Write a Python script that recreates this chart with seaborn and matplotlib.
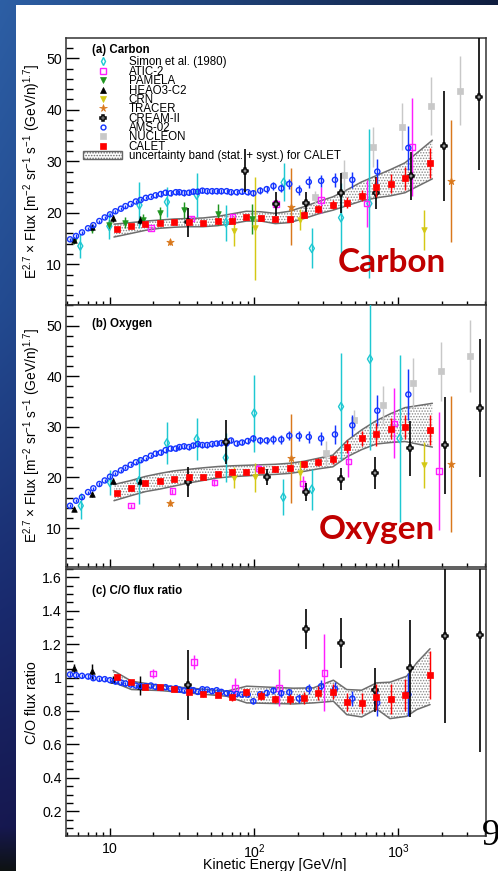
import numpy as np
import matplotlib
matplotlib.use("Agg")
import matplotlib.pyplot as plt
import seaborn as sns
from matplotlib.lines import Line2D
from matplotlib.patches import Patch, Rectangle
from matplotlib.ticker import (MultipleLocator, FuncFormatter, LogLocator,
                               NullFormatter)

# ------------------------------------------------------------------ data
ams_E = [5.28, 5.81, 6.39, 7.04, 7.66, 8.43, 9.19, 10.0, 10.9, 11.9, 12.8, 13.9,
         15.1, 16.3, 17.7, 19.2, 20.7, 22.5, 24.3, 26.3, 28.6, 30.3, 32.6, 35.3,
         37.8, 40.6, 43.7, 47.1, 51.0, 54.9, 59.2, 64.4, 69.0, 75.6, 82.3, 90.1,
         98.6, 110, 122, 136, 154, 175, 204, 239, 291, 363, 479, 714, 1172]
ams_a = [14.85, 15.5, 16.2, 17.0, 17.6, 18.4, 19.1, 19.7, 20.3, 20.8, 21.3, 21.7,
         22.2, 22.5, 22.9, 23.1, 23.4, 23.65, 23.9, 23.8, 24.0, 24.0, 23.85, 23.9,
         24.1, 24.1, 24.3, 24.2, 24.2, 24.2, 24.2, 24.2, 24.0, 24.0, 24.1, 24.0,
         23.8, 24.3, 24.6, 25.2, 24.75, 25.6, 24.4, 26.0, 26.2, 26.4, 26.4, 28.0, 32.6]
ams_a_err = [0.3] * 16 + [0.5] * 20 + [0.6, 0.7, 0.7, 0.8, 0.8, 0.9, 1.0, 1.1, 1.2,
                                      1.3, 1.5, 2.5, 4.2]
ams_b = [14.4, 15.4, 16.1, 17.1, 17.85, 18.7, 19.4, 20.15, 20.8, 21.4, 21.9, 22.5,
         23.0, 23.4, 23.8, 24.3, 24.7, 24.9, 25.4, 25.7, 25.7, 26.0, 26.15, 26.0,
         26.3, 26.6, 26.4, 26.4, 26.6, 26.7, 26.8, 26.8, 27.3, 26.7, 26.9, 27.2,
         27.7, 27.3, 27.3, 27.5, 27.5, 28.25, 28.2, 28.0, 27.7, 28.5, 30.3, 33.2, 36.4]
ams_b_err = [0.3] * 16 + [0.5] * 20 + [0.6, 0.7, 0.7, 0.8, 0.8, 0.9, 1.0, 1.1, 1.2,
                                      1.8, 2.1, 3.1, 5.0]
ams_c = [1.018, 1.014, 1.010, 1.006, 0.996, 0.992, 0.990, 0.984, 0.976, 0.970,
         0.964, 0.958, 0.952, 0.948, 0.948, 0.952, 0.944, 0.938, 0.942, 0.934,
         0.936, 0.928, 0.922, 0.930, 0.924, 0.914, 0.930, 0.928, 0.918, 0.924,
         0.914, 0.906, 0.902, 0.902, 0.898, 0.898, 0.858, 0.900, 0.908, 0.922,
         0.906, 0.912, 0.874, 0.932, 0.948, 0.932, 0.874, 0.848, 0.898]
ams_c_err = [0.012] * 36 + [0.015, 0.015, 0.018, 0.02, 0.02, 0.022, 0.025, 0.03,
                            0.035, 0.04, 0.045, 0.08, 0.13]

calet_E = [11.1, 14.0, 17.6, 22.2, 27.9, 35.1, 44.2, 55.7, 70.1, 88.2, 111, 140,
           176, 222, 279, 351, 442, 556, 700, 882, 1110, 1660]
calet_a = [16.85, 17.4, 17.8, 18.1, 18.15, 18.3, 18.1, 18.5, 18.5, 19.1, 19.0,
           18.75, 18.85, 19.65, 20.7, 21.55, 22.0, 23.3, 25.05, 25.65, 26.7, 29.7]
calet_a_err = [0.2, 0.2, 0.2, 0.2, 0.3, 0.3, 0.3, 0.3, 0.4, 0.4, 0.5, 0.5, 0.6,
               0.7, 0.8, 0.9, 1.1, 1.1, 1.9, 1.9, 2.2, 2.85]
calet_b = [16.98, 18.0, 18.95, 19.3, 19.6, 20.0, 20.15, 20.7, 21.1, 21.1, 21.5,
           21.6, 21.9, 22.6, 23.05, 23.6, 26.1, 27.7, 28.5, 29.6, 30.0, 29.4]
calet_b_err = [0.2, 0.2, 0.2, 0.3, 0.3, 0.3, 0.3, 0.3, 0.4, 0.4, 0.5, 0.5, 0.6,
               0.7, 0.8, 0.9, 1.3, 1.4, 2.2, 2.1, 2.4, 2.9]
calet_c = [1.002, 0.972, 0.946, 0.942, 0.932, 0.916, 0.900, 0.896, 0.882, 0.912,
           0.892, 0.872, 0.872, 0.876, 0.908, 0.916, 0.852, 0.848, 0.884, 0.870,
           0.896, 1.016]
calet_c_err = [0.01, 0.01, 0.01, 0.01, 0.015, 0.015, 0.015, 0.015, 0.02, 0.02,
               0.025, 0.025, 0.03, 0.035, 0.04, 0.045, 0.055, 0.062, 0.08, 0.09,
               0.097, 0.145]

band_E = [10.65, 14.0, 17.6, 22.2, 27.9, 35.1, 44.2, 55.7, 70.1, 88.2, 111, 140,
          176, 222, 279, 351, 442, 556, 700, 882, 1110, 1720]
band_a_up = [17.8, 18.1, 18.4, 18.6, 18.8, 18.9, 19.0, 19.3, 19.8, 20.3, 20.2, 19.9,
             20.3, 21.2, 22.2, 23.1, 24.5, 26.0, 27.2, 28.4, 29.7, 34.1]
band_a_lo = [15.3, 16.0, 16.6, 17.0, 17.2, 17.3, 17.3, 17.5, 17.9, 18.4, 18.4, 17.9,
             18.1, 18.9, 19.8, 20.5, 21.4, 22.3, 22.9, 23.3, 23.9, 26.6]
band_b_up = [18.6, 19.4, 20.2, 20.8, 21.3, 21.6, 21.9, 22.15, 22.3, 22.4, 22.5, 22.6,
             22.8, 23.2, 23.8, 24.4, 27.3, 29.4, 31.2, 32.6, 33.8, 34.65]
band_b_lo = [15.4, 16.4, 17.2, 17.7, 18.3, 18.9, 19.4, 19.9, 20.15, 20.3, 20.5, 20.6,
             20.8, 21.2, 21.7, 22.1, 24.1, 25.5, 26.6, 26.9, 27.1, 26.0]
band_c_E = [10.5, 14.1, 22.2, 64.4, 88.6, 187, 257, 354, 438, 556, 706, 874, 1142,
            1340, 1657]
band_c_up = [1.042, 0.978, 0.952, 0.918, 0.948, 0.936, 0.938, 0.984, 0.928, 0.924,
             0.968, 0.972, 1.008, 1.088, 1.172]
band_c_lo = [0.972, 0.928, 0.922, 0.888, 0.848, 0.842, 0.848, 0.858, 0.778, 0.764,
             0.812, 0.754, 0.768, 0.808, 0.838]

simon_a_E = [6.22, 9.89, 16.0, 24.8, 39.9, 63.7, 160, 251, 400, 629]
simon_a = [13.55, 17.4, 21.5, 22.1, 23.45, 18.1, 25.9, 13.1, 19.05, 21.8]
simon_a_err = [2.3, 2.5, 4.5, 2.9, 4.2, 3.5, 3.7, 3.9, 6.8, 14.4]
simon_b_E = [6.27, 10.0, 15.9, 24.8, 39.9, 63.4, 100, 159, 251, 400, 635, 1018]
simon_b = [14.4, 19.0, 19.35, 26.8, 27.6, 23.9, 32.7, 16.1, 17.65, 34.0, 43.4, 27.7]
simon_b_err = [2.6, 2.4, 4.6, 4.15, 4.2, 4.9, 7.6, 3.6, 4.0, 10.6, 18.0, 16.5]

atic_a_E = [19.2, 36.5, 70.5, 142, 290, 603, 1242]
atic_a = [17.05, 18.9, 19.2, 21.7, 22.5, 21.8, 32.8]
atic_a_err = [0.4, 0.5, 0.6, 1.0, 2.6, 4.5, 9.5]
atic_b_E = [14.0, 27.0, 53, 107, 217, 449, 936, 1908]
atic_b = [14.4, 17.3, 19.0, 21.8, 18.8, 23.1, 30.7, 21.3]
atic_b_err = [0.4, 0.5, 0.6, 0.9, 1.5, 3.0, 6.9, 11.6]
atic_c_E = [19.8, 38.2, 73.7, 149, 306]
atic_c = [1.024, 1.092, 0.938, 0.938, 1.028]
atic_c_err = [0.025, 0.04, 0.06, 0.11, 0.23]

pamela_a_E = [5.62, 7.47, 9.84, 12.8, 16.9, 22.2, 32.6, 55.8, 96.1]
pamela_a = [14.6, 16.8, 17.6, 18.1, 18.6, 19.9, 20.5, 19.7, 18.8]
pamela_a_err = [0.5, 0.8, 1.0, 1.0, 1.2, 1.3, 1.6, 2.0, 3.0]

heao_E = [5.6, 7.47, 10.5, 16.2]
heao_a = [14.7, 17.2, 18.9, 18.6]
heao_a_err = [0.4, 0.5, 0.6, 0.8]
heao_b = [13.75, 16.7, 19.3, 19.35]
heao_b_err = [0.4, 0.5, 0.6, 0.8]
heao_c = [1.054, 1.038, 0.988, 0.952]
heao_c_err = [0.025, 0.045, 0.02, 0.055]

crn_E = [72.4, 102, 207, 1514]
crn_a = [16.5, 17.05, 18.7, 16.7]
crn_a_err = [2.9, 10.0, 2.0, 3.9]
crn_b = [19.95, 20.0, 20.9, 22.45]
crn_b_err = [2.1, 2.8, 2.3, 4.6]

tracer_E = [25.9, 181, 2318]
tracer_a = [14.3, 21.2, 26.2]
tracer_a_err = [0.6, 7.5, 11.8]
tracer_b = [14.9, 23.8, 22.65]
tracer_b_err = [0.6, 8.8, 13.5]

cream_a_E = [34.9, 86.3, 142, 229, 398, 696, 1222, 2080, 3640]
cream_a = [18.2, 28.2, 21.7, 22.0, 23.8, 23.9, 27.1, 33.0, 42.4]
cream_a_err = [2.8, 4.2, 2.4, 2.0, 3.9, 3.1, 4.7, 10.7, 14.0]
cream_b_E = [35, 63.7, 122, 229, 400, 690, 1200, 2100, 3680]
cream_b = [19.15, 27.0, 20.15, 17.05, 19.7, 20.9, 25.75, 26.4, 33.7]
cream_b_err = [3.0, 4.4, 1.6, 1.8, 2.2, 3.2, 5.4, 9.6, 13.6]
cream_c_E = [35, 229, 400, 690, 1200, 2100, 3680]
cream_c = [0.954, 1.29, 1.204, 0.924, 1.054, 1.248, 1.257]
cream_c_err = [0.21, 0.12, 0.15, 0.13, 0.29, 0.52, 0.70]

nucleon_a_E = [264, 420, 664, 1054, 1675, 2673]
nucleon_a = [23.0, 27.3, 32.8, 36.7, 40.7, 43.7]
nucleon_a_err = [1.2, 3.0, 3.9, 4.6, 5.6, 6.7]
nucleon_b_E = [314, 493, 786, 1256, 1976, 3135]
nucleon_b = [24.8, 31.35, 34.3, 38.6, 41.0, 44.0]
nucleon_b_err = [2.5, 2.0, 3.8, 5.1, 5.8, 7.2]

legend_labels = ["Simon et al. (1980)", "ATIC-2", "PAMELA", "HEAO3-C2", "CRN",
                 "TRACER", "CREAM-II", "AMS-02", "NUCLEON", "CALET"]
band_label = "uncertainty band (stat. + syst.) for CALET"
xtick_vals = [10, 100, 1000]
xtick_text = ["10", "$10^{2}$", "$10^{3}$"]

# ------------------------------------------------------------------ styles
STY = {
    "simon":   dict(marker="d", color="#1ec8d2", fc="none", ms=4.3, mew=1.0, z=3),
    "atic":    dict(marker="s", color="#ff1eff", fc="none", ms=3.9, mew=1.0, z=3),
    "pamela":  dict(marker="v", color="#1f951f", fc=None, ms=4.0, mew=0.5, z=3),
    "heao":    dict(marker="^", color="#000000", fc=None, ms=4.0, mew=0.5, z=3),
    "crn":     dict(marker="v", color="#d4c814", fc=None, ms=4.0, mew=0.5, z=3),
    "tracer":  dict(marker="*", color="#d9781c", fc=None, ms=5.6, mew=0.5, z=3),
    "cream":   dict(marker="P", color="#000000", fc="white", ms=5.0, mew=1.1, z=3.5),
    "ams":     dict(marker="o", color="#1434ff", fc="none", ms=3.7, mew=1.0, z=3.2),
    "nucleon": dict(marker="s", color="#c8c8c8", fc=None, ms=4.0, mew=0.5, z=2.5),
    "calet":   dict(marker="s", color="#ff0000", fc=None, ms=4.2, mew=0.5, z=4),
}
ORDER = ["simon", "atic", "pamela", "heao", "crn", "tracer", "cream", "ams",
         "nucleon", "calet"]

sns.set_theme(style="ticks")
plt.rcParams["font.family"] = ["Liberation Sans", "DejaVu Sans"]
plt.rcParams.update({
    "mathtext.fontset": "custom",
    "mathtext.rm": "Liberation Sans",
    "mathtext.it": "Liberation Sans:italic",
    "mathtext.bf": "Liberation Sans:bold",
    "text.color": "black", "axes.labelcolor": "black",
    "xtick.color": "black", "ytick.color": "black",
    "hatch.linewidth": 0.7,
})

W, H = 498, 871
fig = plt.figure(figsize=(W / 100, H / 100), dpi=100)

# slide background
yy = np.linspace(0, 1, H)[:, None]
xx = np.linspace(0, 1, W)[None, :]
stops_y = [0.0, 0.35, 0.7, 0.95, 1.0]
cols = np.array([[45, 95, 165], [35, 75, 145], [25, 42, 110], [22, 24, 80],
                 [14, 18, 18]]) / 255.0
vert = np.stack([np.interp(yy[:, 0], stops_y, cols[:, k]) for k in range(3)], -1)
dark = np.array([10, 18, 45]) / 255.0
mix = (0.85 * xx[..., None])
bg = vert[:, None, :] * (1 - mix) + dark * mix
im = fig.figimage(bg, xo=0, yo=0, origin="upper")
im.set_zorder(-10)
fig.patches.append(Rectangle((16 / W, 0), 1 - 16 / W, 1 - 5 / H,
                             transform=fig.transFigure, facecolor="white",
                             edgecolor="none", zorder=-5))


def fpos(left, top, right, bottom):
    return [left / W, 1 - bottom / H, (right - left) / W, (bottom - top) / H]


ax_a = fig.add_axes(fpos(66, 38, 486, 304.7))
ax_b = fig.add_axes(fpos(66, 304.7, 486, 566.7))
ax_c = fig.add_axes(fpos(66, 568.5, 486, 836))
axes = [ax_a, ax_b, ax_c]


def draw(ax, key, E, v, err):
    st = STY[key]
    E = np.asarray(E, float)
    v = np.asarray(v, float)
    ax.errorbar(E, v, yerr=err, fmt="none", ecolor=st["color"],
                elinewidth=1.2 if key == "cream" else 1.05, capsize=0,
                zorder=st["z"] - 0.1)
    kw = dict(marker=st["marker"], s=st["ms"] ** 2, linewidth=st["mew"],
              edgecolor=st["color"], zorder=st["z"], legend=False,
              color=st["color"])
    if st["fc"] is not None:
        kw["facecolor"] = st["fc"]
    sns.scatterplot(x=E, y=v, ax=ax, **kw)


def band(ax, E, lo, up):
    ax.fill_between(E, lo, up, facecolor="none", edgecolor="#8a8a8a",
                    hatch="......", linewidth=0, zorder=1)
    ax.plot(E, up, color="#6e6e6e", lw=1.1, zorder=1.5)
    ax.plot(E, lo, color="#6e6e6e", lw=1.1, zorder=1.5)


for ax in axes:
    ax.set_xscale("log")

# panel a
band(ax_a, band_E, band_a_lo, band_a_up)
draw(ax_a, "simon", simon_a_E, simon_a, simon_a_err)
draw(ax_a, "atic", atic_a_E, atic_a, atic_a_err)
draw(ax_a, "pamela", pamela_a_E, pamela_a, pamela_a_err)
draw(ax_a, "heao", heao_E, heao_a, heao_a_err)
draw(ax_a, "crn", crn_E, crn_a, crn_a_err)
draw(ax_a, "tracer", tracer_E, tracer_a, tracer_a_err)
draw(ax_a, "nucleon", nucleon_a_E, nucleon_a, nucleon_a_err)
draw(ax_a, "cream", cream_a_E, cream_a, cream_a_err)
draw(ax_a, "ams", ams_E, ams_a, ams_a_err)
draw(ax_a, "calet", calet_E, calet_a, calet_a_err)

# panel b
band(ax_b, band_E, band_b_lo, band_b_up)
draw(ax_b, "simon", simon_b_E, simon_b, simon_b_err)
draw(ax_b, "atic", atic_b_E, atic_b, atic_b_err)
draw(ax_b, "heao", heao_E, heao_b, heao_b_err)
draw(ax_b, "crn", crn_E, crn_b, crn_b_err)
draw(ax_b, "tracer", tracer_E, tracer_b, tracer_b_err)
draw(ax_b, "nucleon", nucleon_b_E, nucleon_b, nucleon_b_err)
draw(ax_b, "cream", cream_b_E, cream_b, cream_b_err)
draw(ax_b, "ams", ams_E, ams_b, ams_b_err)
draw(ax_b, "calet", calet_E, calet_b, calet_b_err)

# panel c
band(ax_c, band_c_E, band_c_lo, band_c_up)
draw(ax_c, "atic", atic_c_E, atic_c, atic_c_err)
draw(ax_c, "heao", heao_E, heao_c, heao_c_err)
draw(ax_c, "cream", cream_c_E, cream_c, cream_c_err)
draw(ax_c, "ams", ams_E, ams_c, ams_c_err)
draw(ax_c, "calet", calet_E, calet_c, calet_c_err)

# axes cosmetics
FS = 10.2
for ax in axes:
    ax.set_xlim(4.95, 4050)
    for sp in ax.spines.values():
        sp.set_visible(True)
        sp.set_color("#333333")
        sp.set_linewidth(1.1)
    ax.tick_params(axis="both", which="both", direction="in", top=False,
                   right=False, width=1.0, colors="black", labelsize=FS)
    ax.tick_params(axis="y", which="major", length=9.4, pad=3)
    ax.tick_params(axis="y", which="minor", length=4.8)
    ax.tick_params(axis="x", which="major", length=5.5, pad=4.5)
    ax.tick_params(axis="x", which="minor", length=3.2)
    ax.xaxis.set_major_locator(LogLocator(base=10, numticks=10))
    ax.xaxis.set_minor_locator(LogLocator(base=10, subs=np.arange(2, 10),
                                          numticks=40))
    ax.xaxis.set_minor_formatter(NullFormatter())
    ax.set_xlabel("")
    ax.set_ylabel("")

ax_a.set_ylim(2.16, 53.94)
ax_b.set_ylim(2.35, 54.15)
ax_c.set_ylim(0.052, 1.652)
for ax in (ax_a, ax_b):
    ax.yaxis.set_major_locator(MultipleLocator(10))
    ax.yaxis.set_minor_locator(MultipleLocator(2))
    ax.yaxis.set_major_formatter(FuncFormatter(lambda v, p: f"{v:g}"))
    ax.tick_params(axis="x", labelbottom=False)
ax_c.yaxis.set_major_locator(MultipleLocator(0.2))
ax_c.yaxis.set_minor_locator(MultipleLocator(0.05))
ax_c.yaxis.set_major_formatter(FuncFormatter(lambda v, p: f"{v:.1f}".rstrip("0").rstrip(".")))
ax_c.set_xticks(xtick_vals)
ax_c.set_xticklabels(xtick_text)
ax_c.set_xlim(4.95, 4050)

ylab = r"E$^{2.7}$ $\times$ Flux [m$^{-2}$ sr$^{-1}$ s$^{-1}$ (GeV/n)$^{1.7}$]"
ax_a.set_ylabel(ylab, fontsize=9.9)
ax_b.set_ylabel(ylab, fontsize=9.9)
ax_c.set_ylabel("C/O flux ratio", fontsize=FS)
ax_a.yaxis.set_label_coords((43 - 66) / 420, 0.5)
ax_b.yaxis.set_label_coords((43 - 66) / 420, 0.5)
ax_c.yaxis.set_label_coords((39 - 66) / 420, 0.5)
ax_c.set_xlabel("Kinetic Energy [GeV/n]", fontsize=FS)
ax_c.xaxis.set_label_coords(0.4976, (836 - 858) / 267.5)

# panel titles
for t, ypx in (("(a) Carbon", 50), ("(b) Oxygen", 324), ("(c) C/O flux ratio", 591)):
    fig.text(92 / W, 1 - ypx / H, t, fontsize=8.3, fontweight="bold",
             ha="left", va="center")

# legend
handles = []
for key in ORDER:
    st = STY[key]
    handles.append(Line2D([], [], linestyle="none", marker=st["marker"],
                          markersize=st["ms"] * 0.95, markeredgewidth=st["mew"],
                          markeredgecolor=st["color"],
                          markerfacecolor=st["color"] if st["fc"] is None else st["fc"]))
handles.append(Patch(facecolor="white", edgecolor="#666666", hatch="......",
                     linewidth=1.0))
leg = ax_a.legend(handles, legend_labels + [band_label], loc="upper left",
                  bbox_to_anchor=(83 / W, 1 - 56.5 / H),
                  bbox_transform=fig.transFigure, frameon=False, fontsize=8.3,
                  handlelength=3.4, handletextpad=0.57, labelspacing=-0.229,
                  borderpad=0, borderaxespad=0, handleheight=0.7)
leg.set_zorder(5)

# slide overlays
fig.text(338 / W, 1 - 272 / H, "Carbon", fontsize=24, fontweight="bold",
         family="Lato", color="#c00000", ha="left", va="baseline")
fig.text(319 / W, 1 - 538.5 / H, "Oxygen", fontsize=24, fontweight="bold",
         family="Lato", color="#c00000", ha="left", va="baseline")
fig.text(482 / W, 1 - 845 / H, "9", fontsize=26.5, family="Liberation Serif",
         color="black", ha="left", va="baseline")

fig.savefig("out.png", dpi=100)
